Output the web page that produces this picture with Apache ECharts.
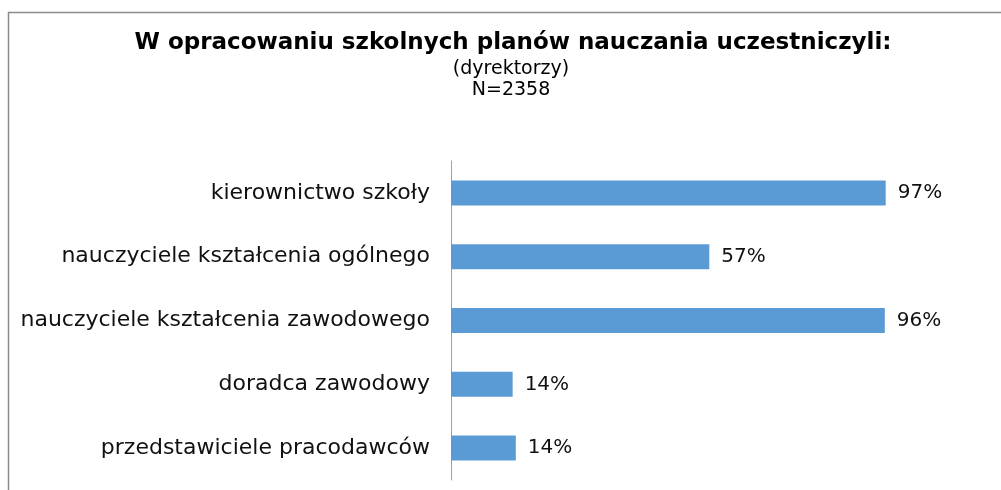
<!DOCTYPE html>
<html>
  <head>
    <meta charset="utf-8" />
    <title>W opracowaniu szkolnych planów nauczania uczestniczyli</title>
    <script src="https://cdn.jsdelivr.net/npm/echarts@6/dist/echarts.min.js"></script>
    <style type="text/css">
      * {
        margin: 0px;
        padding: 0px;
      }
      body {
        background-color: #ffffff;
      }
    </style>
  </head>
  <body>
    <div id="main" style="width: 1001px; height: 490px"></div>
  </body>
</html>
<script>
  // dane (procent dyrektorów)
  let categories = [
    "kierownictwo szkoły",
    "nauczyciele kształcenia ogólnego",
    "nauczyciele kształcenia zawodowego",
    "doradca zawodowy",
    "przedstawiciele pracodawców",
  ];
  let values = [96.6, 57.4, 96.4, 13.7, 14.4];
  let titleText = "W opracowaniu szkolnych planów nauczania uczestniczyli:";
  let subLines = ["(dyrektorzy)", "N=2358"];

  let myChart = echarts.init(document.getElementById("main"));

  let option = {
    animation: false,
    backgroundColor: "#ffffff",
    graphic: [
      // ramka wykresu (góra i lewa krawędź)
      {
        type: "polyline",
        shape: { points: [[8.5, 490], [8.5, 12.5], [1001, 12.5]] },
        style: { stroke: "#8c8c8c", lineWidth: 1.5, fill: null },
      },
      {
        type: "text",
        x: 513,
        y: 43,
        style: {
          text: titleText,
          font: "bold 23px 'DejaVu Sans'",
          fill: "#000000",
          textAlign: "center",
          textVerticalAlign: "middle",
        },
      },
      {
        type: "text",
        x: 511,
        y: 69,
        style: {
          text: subLines[0],
          font: "19px 'DejaVu Sans'",
          fill: "#000000",
          textAlign: "center",
          textVerticalAlign: "middle",
        },
      },
      {
        type: "text",
        x: 511,
        y: 90,
        style: {
          text: subLines[1],
          font: "19px 'DejaVu Sans'",
          fill: "#000000",
          textAlign: "center",
          textVerticalAlign: "middle",
        },
      },
    ],
    grid: {
      left: 451,
      right: 100,
      top: 161,
      bottom: 10,
      containLabel: false,
    },
    xAxis: {
      type: "value",
      min: 0,
      max: 100,
      show: false,
    },
    yAxis: {
      type: "category",
      data: categories,
      inverse: true,
      axisLine: { show: true, lineStyle: { color: "#a0a0a0", width: 1 } },
      axisTick: { show: false },
      axisLabel: {
        margin: 21,
        fontFamily: "DejaVu Sans",
        fontSize: 22,
        color: "#111111",
      },
      splitLine: { show: false },
    },
    series: [
      {
        type: "bar",
        data: values,
        barWidth: 25,
        itemStyle: { color: "#5b9bd5" },
        label: {
          show: true,
          position: "right",
          distance: 12,
          fontFamily: "DejaVu Sans",
          fontSize: 20,
          color: "#111111",
          formatter: function (p) {
            return Math.round(p.value) + "%";
          },
        },
      },
    ],
  };

  myChart.setOption(option);
</script>
